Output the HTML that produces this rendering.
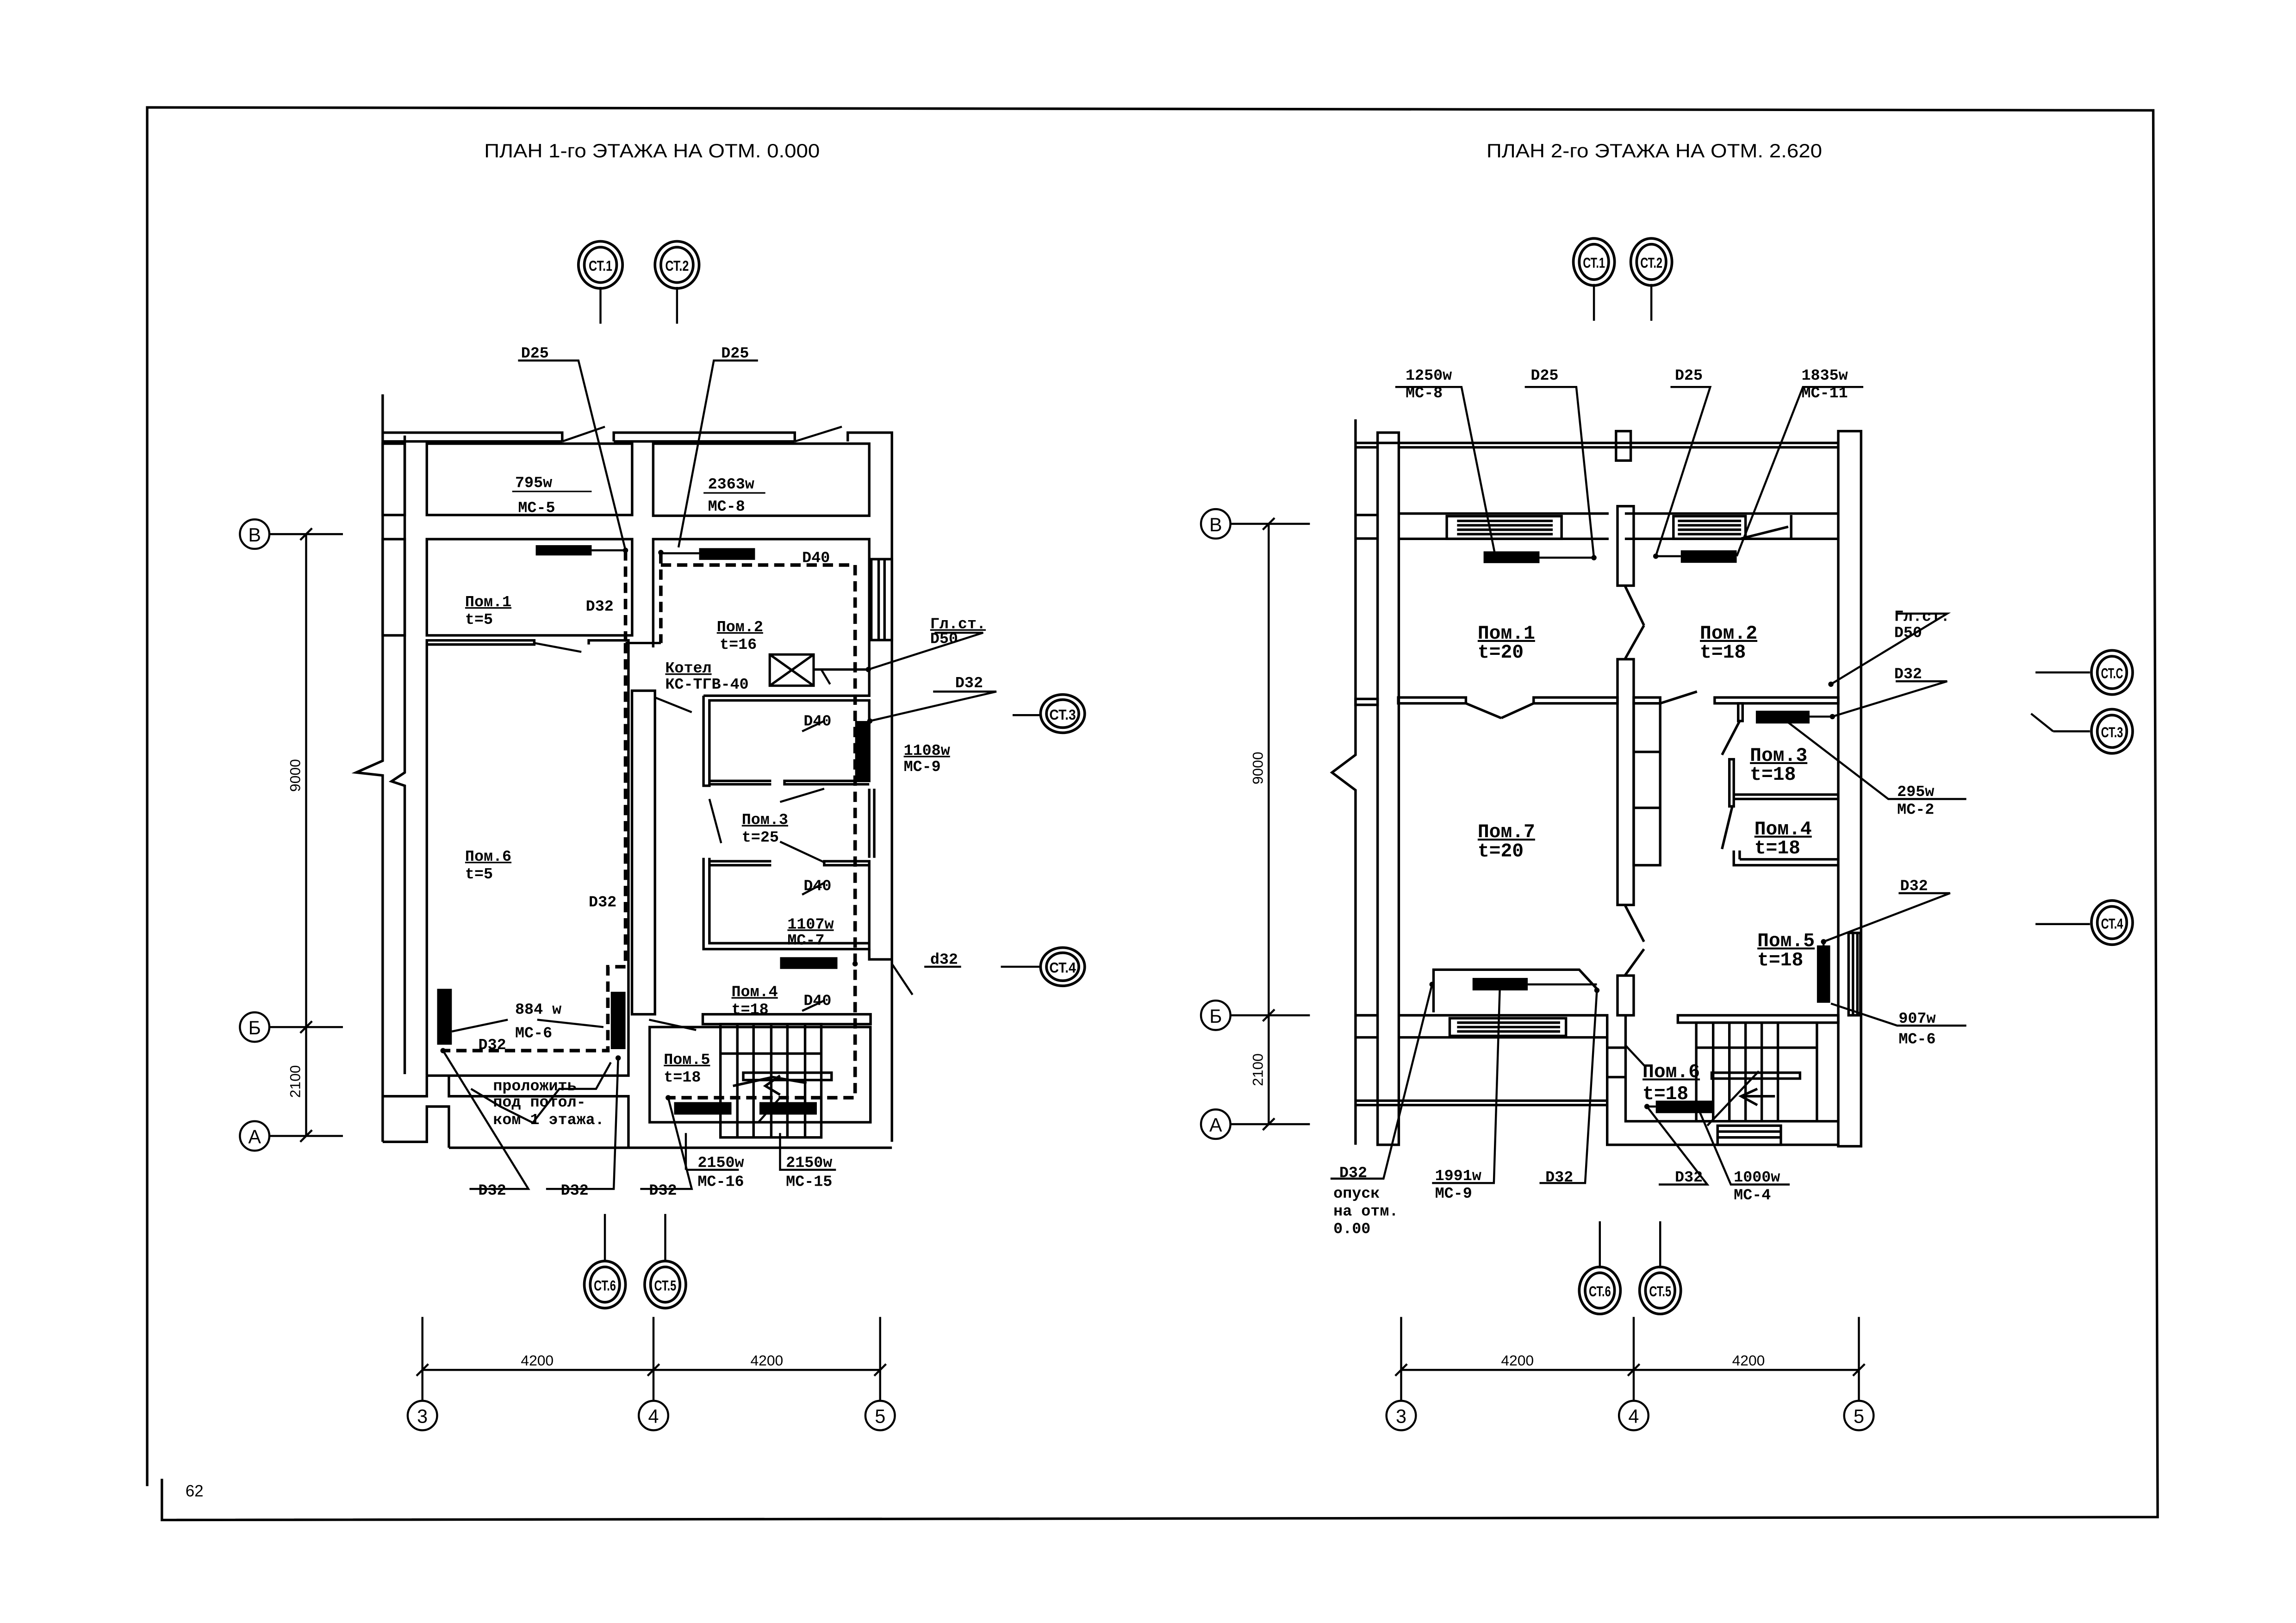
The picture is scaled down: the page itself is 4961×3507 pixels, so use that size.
<!DOCTYPE html>
<html><head><meta charset="utf-8"><style>
html,body{margin:0;padding:0;background:#fff}
svg{display:block}
.t{font-family:"Liberation Mono","DejaVu Sans Mono",monospace;font-weight:bold;fill:#000}
.s{font-family:"Liberation Sans",sans-serif;fill:#000}
</style></head><body>
<svg width="4961" height="3507" viewBox="0 0 1560 1103" preserveAspectRatio="none" xmlns="http://www.w3.org/2000/svg">
<rect width="1560" height="1103" fill="#fff"/>
<g stroke="#000" fill="none" stroke-width="1.7">
<polyline points="100,1010 100,73 1463,75 1466,1031 110,1033 110,1005"/>
</g>
<text class="s" x="443" y="107" font-size="13" text-anchor="middle" textLength="228" lengthAdjust="spacingAndGlyphs">ПЛАН 1-го ЭТАЖА НА ОТМ. 0.000</text>
<text class="s" x="1124" y="107" font-size="13" text-anchor="middle" textLength="228" lengthAdjust="spacingAndGlyphs">ПЛАН 2-го ЭТАЖА НА ОТМ. 2.620</text>
<text class="s" x="126" y="1017" font-size="11">62</text>

<!-- ================= LEFT PLAN ================= -->
<g stroke="#000" fill="none" stroke-width="1.7">
<polyline points="260,268 260,517 242,525 260,527 260,776"/>
<polyline points="275,296 275,525 266,531 275,534 275,730"/>
<polyline points="260,294 382,294 382,300"/>
<polyline points="417,300 417,294 540,294 540,300"/>
<polyline points="576,300 576,294 606,294 606,776"/>
<line x1="382" y1="300" x2="260" y2="300"/>
<line x1="417" y1="300" x2="540" y2="300"/>
<rect x="290" y="301.5" width="139.5" height="48.5"/>
<rect x="443.8" y="301.5" width="146.8" height="49"/>
<rect x="290" y="366.4" width="139.5" height="65.4"/>
<rect x="260" y="301.5" width="15" height="48.5"/>
<rect x="260" y="366.4" width="15" height="65.4"/>
<polyline points="290,731 290,435.2 363,435.2 363,438 290,438"/>
<polyline points="400,438 400,435.2 427,435.2 427,731 290,731"/>
<polyline points="443.8,440 443.8,366.4 590.6,366.4 590.6,472.8 478,472.8"/>
<rect x="592" y="380" width="14" height="55"/>
<line x1="597" y1="380" x2="597" y2="435"/><line x1="601" y1="380" x2="601" y2="435"/>
<rect x="429.4" y="469.4" width="15.6" height="219.9"/>
<polyline points="478,472.8 478,534 482,534 482,476 590.6,476 590.6,530.7 533,530.7 533,533 590.6,533"/>
<line x1="482" y1="530.7" x2="524" y2="530.7"/><line x1="482" y1="533" x2="524" y2="533"/>
<polyline points="478,583 478,645 590.6,645 590.6,585.3 560,585.3 560,588 590.6,588"/>
<polyline points="482,583 482,641 590.6,641"/>
<line x1="482" y1="585.3" x2="524" y2="585.3"/><line x1="482" y1="588" x2="524" y2="588"/>
<line x1="590.6" y1="536" x2="590.6" y2="583"/><line x1="594" y1="536" x2="594" y2="583"/>
<polyline points="590.6,645 590.6,652 606,652"/>
<rect x="477.5" y="689.3" width="114" height="6.7"/>
<rect x="441.4" y="698" width="150" height="64.7"/>
<rect x="489.5" y="696" width="68.5" height="77"/>
<line x1="501" y1="696" x2="501" y2="773"/><line x1="512" y1="696" x2="512" y2="773"/><line x1="524" y1="696" x2="524" y2="773"/><line x1="535" y1="696" x2="535" y2="773"/><line x1="547" y1="696" x2="547" y2="773"/>
<line x1="489.5" y1="716" x2="558" y2="716"/>
<rect x="505" y="729" width="60" height="5"/>
<polyline points="498,738 525,732 548,736"/>
<polyline points="530,731 520,738 530,744"/>
<polyline points="260,745 290,745 290,731"/>
<polyline points="305,731 305,745 427,745 427,780"/>
<polyline points="260,776 290,776 290,752 305,752 305,780"/>
<polyline points="427,780 606,780"/>
<polyline points="305,780 427,780"/>
</g>
<g stroke="#000" fill="none" stroke-width="2.4" stroke-dasharray="7,4">
<polyline points="425,374 425,437"/>
<polyline points="449,376 449,437"/>
<polyline points="449,384 581,384 581,746 454,746"/>
<polyline points="425,437 425,657 413,657 413,714 301,714"/>
</g>
<g stroke="#000" stroke-width="1.6" fill="none">
<line x1="425" y1="437" x2="449" y2="437"/>
<rect x="523" y="444.8" width="29.8" height="21.2"/>
<line x1="523" y1="444.8" x2="552.8" y2="466"/><line x1="523" y1="466" x2="552.8" y2="444.8"/>
<line x1="552.8" y1="455" x2="590" y2="455"/>
</g>
<g fill="#000">
<rect x="364" y="370.5" width="38" height="7"/>
<rect x="475" y="372.5" width="38" height="8"/>
<rect x="581" y="490" width="10" height="40"/>
<rect x="530" y="650.5" width="39" height="8"/>
<rect x="297" y="672" width="10" height="38"/>
<rect x="415" y="674" width="10" height="39"/>
<rect x="458" y="749" width="39" height="8.5"/>
<rect x="516" y="749" width="39" height="8.5"/>
<circle cx="425" cy="374" r="1.8"/><circle cx="449" cy="375.5" r="1.8"/><circle cx="590" cy="455" r="1.8"/><circle cx="591" cy="490" r="1.8"/>
<circle cx="581" cy="655" r="1.8"/><circle cx="301" cy="714" r="1.8"/><circle cx="420" cy="719" r="1.8"/><circle cx="454" cy="746" r="1.8"/>
</g>
<g stroke="#000" fill="none" stroke-width="1.4">
<polyline points="352,245 393,245 425,374"/>
<polyline points="515,245 485,245 461,372"/>
<line x1="402" y1="374" x2="425" y2="374"/>
<line x1="449" y1="376" x2="475" y2="376"/>
<line x1="382" y1="300" x2="411" y2="290"/><line x1="540" y1="300" x2="572" y2="290"/>
<polyline points="635,430 668,430 590,455"/>
<polyline points="558,455 564,465"/>
<polyline points="634,470 677,470 591,490"/>
<line x1="363" y1="437" x2="395" y2="443"/>
<line x1="445" y1="474" x2="470" y2="484"/>
<line x1="482" y1="543" x2="490" y2="573"/>
<line x1="530" y1="545" x2="560" y2="536"/>
<line x1="530" y1="572" x2="560" y2="586"/>
<line x1="441" y1="693" x2="473" y2="700"/>
<line x1="606" y1="655" x2="620" y2="676"/>
<line x1="545" y1="497" x2="560" y2="490"/><line x1="545" y1="608" x2="560" y2="600"/><line x1="545" y1="687" x2="560" y2="680"/>
<line x1="530" y1="746" x2="515" y2="763"/>
<line x1="307" y1="701" x2="345" y2="693"/><line x1="365" y1="693" x2="410" y2="698"/>
<polyline points="319,808 359,808 301,714"/>
<polyline points="371,808 417,808 420,719"/>
<polyline points="435,808 470,808 454,746"/>
<polyline points="466,795 466,770 "/><line x1="466" y1="795" x2="502" y2="795"/>
<polyline points="530,770 530,795 568,795"/>
<polyline points="320,740 340,752 362,763 380,740 405,740 415,722"/>
<line x1="628" y1="657" x2="653" y2="657"/>
<line x1="688" y1="486" x2="707" y2="486"/><line x1="680" y1="657" x2="707" y2="657"/>
<line x1="408" y1="195" x2="408" y2="220"/><line x1="460" y1="195" x2="460" y2="220"/>
<line x1="411" y1="857" x2="411" y2="825"/><line x1="452" y1="857" x2="452" y2="825"/>
</g>
<g class="t" font-size="10.5">
<text x="354" y="243">D25</text><text x="490" y="243">D25</text>
<text x="350" y="331">795w</text><line x1="348" y1="334" x2="402" y2="334" stroke="#000"/><text x="352" y="348">МС-5</text>
<text x="481" y="332">2363w</text><line x1="478" y1="335" x2="520" y2="335" stroke="#000"/><text x="481" y="347">МС-8</text>
<text x="545" y="382">D40</text>
<text x="398" y="415">D32</text>
<text x="316" y="412" text-decoration="underline">Пом.1</text><text x="316" y="424">t=5</text>
<text x="487" y="429" text-decoration="underline">Пом.2</text><text x="489" y="441">t=16</text>
<text x="452" y="457" text-decoration="underline">Котел</text><text x="452" y="468">КС-ТГВ-40</text>
<text x="632" y="427" text-decoration="underline">Гл.ст.</text><text x="632" y="437">D50</text>
<text x="649" y="467">D32</text>
<text x="546" y="493">D40</text>
<text x="614" y="513" text-decoration="underline">1108w</text><text x="614" y="524">МС-9</text>
<text x="504" y="560" text-decoration="underline">Пом.3</text><text x="504" y="572">t=25</text>
<text x="316" y="585" text-decoration="underline">Пом.6</text><text x="316" y="597">t=5</text>
<text x="400" y="616">D32</text>
<text x="546" y="605">D40</text>
<text x="535" y="631" text-decoration="underline">1107w</text><text x="535" y="642">МС-7</text>
<text x="632" y="655">d32</text>
<text x="497" y="677" text-decoration="underline">Пом.4</text><text x="497" y="689">t=18</text>
<text x="546" y="683">D40</text>
<text x="350" y="689">884 w</text><text x="350" y="705">МС-6</text>
<text x="325" y="713">D32</text>
<text x="451" y="723" text-decoration="underline">Пом.5</text><text x="451" y="735">t=18</text>
<text x="335" y="741">проложить</text><text x="335" y="752">под потол-</text><text x="335" y="764">ком 1 этажа.</text>
<text x="325" y="812">D32</text><text x="381" y="812">D32</text><text x="441" y="812">D32</text>
<text x="474" y="793">2150w</text><text x="474" y="806">МС-16</text>
<text x="534" y="793">2150w</text><text x="534" y="806">МС-15</text>
</g>

<!-- ================= RIGHT PLAN ================= -->
<g stroke="#000" fill="none" stroke-width="1.7">
<polyline points="921,285 921,513 905,525 921,537 921,778"/>
<rect x="936" y="294" width="14.4" height="484"/>
<rect x="1249" y="293" width="15.5" height="486"/>
<line x1="921" y1="301" x2="1249" y2="301"/><line x1="921" y1="304" x2="936" y2="304"/><line x1="950" y1="304" x2="1249" y2="304"/>
<polyline points="950,349 1093,349"/><polyline points="1104,349 1249,349"/>
<rect x="1098" y="293" width="10" height="20"/>
<line x1="921" y1="350" x2="936" y2="350"/><line x1="921" y1="366" x2="936" y2="366"/>
<rect x="983" y="350.8" width="78" height="15.4"/>
<line x1="990" y1="354" x2="1055" y2="354"/><line x1="990" y1="357" x2="1055" y2="357"/><line x1="990" y1="360" x2="1055" y2="360"/><line x1="990" y1="363" x2="1055" y2="363"/>
<rect x="1137" y="350.8" width="49" height="15.4"/>
<line x1="1140" y1="354" x2="1183" y2="354"/><line x1="1140" y1="357" x2="1183" y2="357"/><line x1="1140" y1="360" x2="1183" y2="360"/><line x1="1140" y1="363" x2="1183" y2="363"/>
<line x1="1217" y1="350" x2="1217" y2="366"/>
<line x1="950" y1="366.2" x2="1093" y2="366.2"/><line x1="1104" y1="366.2" x2="1249" y2="366.2"/>
<rect x="1099" y="344" width="11" height="54"/>
<rect x="1099" y="448" width="11" height="167"/>
<rect x="1099" y="663" width="11" height="27"/>
<rect x="921" y="475" width="15" height="4"/>
<rect x="950" y="474" width="46" height="4"/>
<rect x="1042" y="474" width="57" height="4"/>
<rect x="1110" y="474" width="18" height="4"/>
<rect x="1165" y="474" width="84" height="4"/>
<rect x="1110" y="478" width="18" height="110"/>
<line x1="1110" y1="511" x2="1128" y2="511"/><line x1="1110" y1="549" x2="1128" y2="549"/>
<rect x="1181" y="478" width="3" height="12"/>
<rect x="1175" y="516" width="3" height="32"/>
<line x1="1178" y1="540" x2="1249" y2="540"/><line x1="1178" y1="543" x2="1249" y2="543"/>
<polyline points="1178,578 1178,588 1249,588"/><line x1="1182" y1="584" x2="1249" y2="584"/><line x1="1182" y1="578" x2="1182" y2="584"/>
<rect x="1256" y="634" width="8" height="56"/>
<line x1="1259" y1="634" x2="1259" y2="690"/><line x1="1262" y1="634" x2="1262" y2="690"/>
<polyline points="950,690 1092,690 1092,778 1249,778"/>
<line x1="921" y1="690" x2="936" y2="690"/><line x1="921" y1="705" x2="936" y2="705"/>
<rect x="985" y="692" width="79" height="12"/>
<line x1="990" y1="695" x2="1060" y2="695"/><line x1="990" y1="698" x2="1060" y2="698"/><line x1="990" y1="701" x2="1060" y2="701"/>
<line x1="950" y1="705" x2="1092" y2="705"/>
<line x1="921" y1="748" x2="1092" y2="748"/><line x1="921" y1="751" x2="1092" y2="751"/>
<polyline points="1104.5,690 1104.5,762 1249,762"/>
<line x1="1092" y1="712" x2="1104" y2="712"/><line x1="1092" y1="732" x2="1104" y2="732"/>
<rect x="1140" y="690" width="109" height="5"/>
<rect x="1152.5" y="695" width="82" height="67"/>
<line x1="1164" y1="695" x2="1164" y2="762"/><line x1="1175" y1="695" x2="1175" y2="762"/><line x1="1186" y1="695" x2="1186" y2="762"/><line x1="1197" y1="695" x2="1197" y2="762"/><line x1="1208" y1="695" x2="1208" y2="762"/>
<line x1="1152.5" y1="712" x2="1234.5" y2="712"/>
<rect x="1163" y="729" width="60" height="4"/>
<polyline points="1194,740 1183,745 1194,751"/><line x1="1183" y1="745" x2="1206" y2="745"/>
<rect x="1167" y="765" width="43" height="13"/>
<line x1="1167" y1="769" x2="1210" y2="769"/><line x1="1167" y1="773" x2="1210" y2="773"/>
<line x1="1104" y1="398" x2="1117" y2="425"/><line x1="1117" y1="425" x2="1104" y2="448"/>
<line x1="996" y1="478" x2="1020" y2="488"/><line x1="1020" y1="488" x2="1042" y2="478"/>
<line x1="1128" y1="478" x2="1153" y2="470"/>
<line x1="1182" y1="490" x2="1170" y2="513"/>
<line x1="1177" y1="548" x2="1170" y2="577"/>
<line x1="1104" y1="615" x2="1117" y2="640"/><line x1="1117" y1="645" x2="1104" y2="663"/>
<line x1="1183" y1="366" x2="1215" y2="358"/>
<polyline points="974,688 974,659 1073,659 1085,672"/>
</g>
<g fill="#000">
<rect x="1008" y="374.7" width="38" height="8"/>
<rect x="1142" y="374" width="38" height="8.5"/>
<rect x="1193" y="483" width="36.5" height="8.7"/>
<rect x="1234.5" y="642.5" width="9" height="39"/>
<rect x="1000.5" y="664.6" width="37.5" height="8.5"/>
<rect x="1125" y="748" width="39" height="8.5"/>
<circle cx="1083" cy="379" r="1.8"/><circle cx="1125" cy="378" r="1.8"/><circle cx="1245" cy="487" r="1.8"/>
<circle cx="1244" cy="465" r="1.8"/><circle cx="1239" cy="640" r="1.8"/><circle cx="1085" cy="673" r="1.8"/><circle cx="973" cy="669" r="1.8"/><circle cx="1119" cy="752" r="1.8"/>
</g>
<g stroke="#000" fill="none" stroke-width="1.4">
<line x1="1046" y1="379" x2="1083" y2="379"/><line x1="1125" y1="378" x2="1142" y2="378"/>
<line x1="1229" y1="487" x2="1245" y2="487"/><line x1="1239" y1="640" x2="1239" y2="644"/>
<line x1="1038" y1="669" x2="1085" y2="669"/><line x1="1119" y1="752" x2="1125" y2="752"/>
<polyline points="948,263 993,263 1016,378"/>
<polyline points="1036,263 1071,263 1083,379"/>
<polyline points="1135,263 1162,263 1125,378"/>
<polyline points="1266,263 1225,263 1180,378"/>
<polyline points="1288,417 1323,417 1244,465"/>
<polyline points="1288,463 1323,463 1245,487"/>
<polyline points="1336,543 1283,543 1215,491"/>
<polyline points="1290,607 1325,607 1239,640"/>
<polyline points="1336,697 1289,697 1244,682"/>
<polyline points="904,801 940,801 973,669"/>
<polyline points="973,804 1015,804 1019,673"/>
<polyline points="1046,804 1077,804 1085,673"/>
<polyline points="1127,805 1160,805 1119,752"/>
<polyline points="1216,805 1176,805 1155,756"/>
<line x1="1104" y1="710" x2="1118" y2="725"/>
<line x1="1160" y1="765" x2="1195" y2="728"/>
<line x1="1083" y1="193" x2="1083" y2="218"/><line x1="1122" y1="193" x2="1122" y2="218"/>
<line x1="1383" y1="457" x2="1420" y2="457"/><line x1="1380" y1="485" x2="1395" y2="497"/><line x1="1395" y1="497" x2="1420" y2="497"/>
<line x1="1383" y1="628" x2="1420" y2="628"/>
<line x1="1087" y1="862" x2="1087" y2="830"/><line x1="1128" y1="862" x2="1128" y2="830"/>
</g>
<g class="t" font-size="10.5">
<text x="955" y="258">1250w</text><text x="955" y="270">МС-8</text>
<text x="1040" y="258">D25</text><text x="1138" y="258">D25</text>
<text x="1224" y="258">1835w</text><text x="1224" y="270">МС-11</text>
<text x="1004" y="434" font-size="13" text-decoration="underline">Пом.1</text><text x="1004" y="447" font-size="13">t=20</text>
<text x="1155" y="434" font-size="13" text-decoration="underline">Пом.2</text><text x="1155" y="447" font-size="13">t=18</text>
<text x="1287" y="422">Гл.ст.</text><text x="1287" y="433">D50</text>
<text x="1287" y="461">D32</text>
<text x="1189" y="517" font-size="13" text-decoration="underline">Пом.3</text><text x="1189" y="530" font-size="13">t=18</text>
<text x="1289" y="541">295w</text><text x="1289" y="553">МС-2</text>
<text x="1004" y="569" font-size="13" text-decoration="underline">Пом.7</text><text x="1004" y="582" font-size="13">t=20</text>
<text x="1192" y="567" font-size="13" text-decoration="underline">Пом.4</text><text x="1192" y="580" font-size="13">t=18</text>
<text x="1291" y="605">D32</text>
<text x="1194" y="643" font-size="13" text-decoration="underline">Пом.5</text><text x="1194" y="656" font-size="13">t=18</text>
<text x="1290" y="695">907w</text><text x="1290" y="709">МС-6</text>
<text x="1116" y="732" font-size="13" text-decoration="underline">Пом.6</text><text x="1116" y="747" font-size="13">t=18</text>
<text x="910" y="800">D32</text><text x="906" y="814">опуск</text><text x="906" y="826">на отм.</text><text x="906" y="838">0.00</text>
<text x="975" y="802">1991w</text><text x="975" y="814">МС-9</text>
<text x="1050" y="803">D32</text>
<text x="1138" y="803">D32</text>
<text x="1178" y="803">1000w</text><text x="1178" y="815">МС-4</text>
</g>

<g stroke="#000" fill="none" stroke-width="1.8">
<ellipse cx="408" cy="180" rx="15" ry="16"/><ellipse cx="408" cy="180" rx="11" ry="12"/>
<ellipse cx="460" cy="180" rx="15" ry="16"/><ellipse cx="460" cy="180" rx="11" ry="12"/>
<ellipse cx="722" cy="485" rx="15" ry="13"/><ellipse cx="722" cy="485" rx="11" ry="9.5"/>
<ellipse cx="722" cy="657" rx="15" ry="13"/><ellipse cx="722" cy="657" rx="11" ry="9.5"/>
<ellipse cx="411" cy="873" rx="14" ry="16"/><ellipse cx="411" cy="873" rx="10" ry="12"/>
<ellipse cx="452" cy="873" rx="14" ry="16"/><ellipse cx="452" cy="873" rx="10" ry="12"/>
<ellipse cx="1083" cy="178" rx="14" ry="16"/><ellipse cx="1083" cy="178" rx="10" ry="12"/>
<ellipse cx="1122" cy="178" rx="14" ry="16"/><ellipse cx="1122" cy="178" rx="10" ry="12"/>
<ellipse cx="1435" cy="457" rx="14" ry="15"/><ellipse cx="1435" cy="457" rx="10" ry="11"/>
<ellipse cx="1435" cy="497" rx="14" ry="15"/><ellipse cx="1435" cy="497" rx="10" ry="11"/>
<ellipse cx="1435" cy="627" rx="14" ry="15"/><ellipse cx="1435" cy="627" rx="10" ry="11"/>
<ellipse cx="1087" cy="877" rx="14" ry="16"/><ellipse cx="1087" cy="877" rx="10" ry="12"/>
<ellipse cx="1128" cy="877" rx="14" ry="16"/><ellipse cx="1128" cy="877" rx="10" ry="12"/>
</g>
<g class="s" font-size="10" font-weight="bold" text-anchor="middle">
<text x="408" y="184" textLength="16" lengthAdjust="spacingAndGlyphs">СТ.1</text>
<text x="460" y="184" textLength="16" lengthAdjust="spacingAndGlyphs">СТ.2</text>
<text x="722" y="489" textLength="18" lengthAdjust="spacingAndGlyphs">СТ.3</text>
<text x="722" y="661" textLength="18" lengthAdjust="spacingAndGlyphs">СТ.4</text>
<text x="411" y="877" textLength="15" lengthAdjust="spacingAndGlyphs">СТ.6</text>
<text x="452" y="877" textLength="15" lengthAdjust="spacingAndGlyphs">СТ.5</text>
<text x="1083" y="182" textLength="15" lengthAdjust="spacingAndGlyphs">СТ.1</text>
<text x="1122" y="182" textLength="15" lengthAdjust="spacingAndGlyphs">СТ.2</text>
<text x="1435" y="461" textLength="15" lengthAdjust="spacingAndGlyphs">СТ.С</text>
<text x="1435" y="501" textLength="15" lengthAdjust="spacingAndGlyphs">СТ.3</text>
<text x="1435" y="631" textLength="15" lengthAdjust="spacingAndGlyphs">СТ.4</text>
<text x="1087" y="881" textLength="15" lengthAdjust="spacingAndGlyphs">СТ.6</text>
<text x="1128" y="881" textLength="15" lengthAdjust="spacingAndGlyphs">СТ.5</text>
</g>

<g stroke="#000" fill="none" stroke-width="1.4">
<circle cx="173" cy="363" r="10"/><circle cx="173" cy="698" r="10"/><circle cx="173" cy="772" r="10"/>
<line x1="183" y1="363" x2="233" y2="363"/><line x1="183" y1="698" x2="233" y2="698"/><line x1="183" y1="772" x2="233" y2="772"/>
<line x1="208" y1="363" x2="208" y2="772"/>
<line x1="204" y1="367" x2="212" y2="359"/><line x1="204" y1="702" x2="212" y2="694"/><line x1="204" y1="776" x2="212" y2="768"/>
<circle cx="287" cy="962" r="10"/><circle cx="444" cy="962" r="10"/><circle cx="598" cy="962" r="10"/>
<line x1="287" y1="895" x2="287" y2="952"/><line x1="444" y1="895" x2="444" y2="952"/><line x1="598" y1="895" x2="598" y2="952"/>
<line x1="287" y1="931" x2="598" y2="931"/>
<line x1="283" y1="935" x2="291" y2="927"/><line x1="440" y1="935" x2="448" y2="927"/><line x1="594" y1="935" x2="602" y2="927"/>
<circle cx="826" cy="356" r="10"/><circle cx="826" cy="690" r="10"/><circle cx="826" cy="764" r="10"/>
<line x1="836" y1="356" x2="890" y2="356"/><line x1="836" y1="690" x2="890" y2="690"/><line x1="836" y1="764" x2="890" y2="764"/>
<line x1="862" y1="356" x2="862" y2="764"/>
<line x1="858" y1="360" x2="866" y2="352"/><line x1="858" y1="694" x2="866" y2="686"/><line x1="858" y1="768" x2="866" y2="760"/>
<circle cx="952" cy="962" r="10"/><circle cx="1110" cy="962" r="10"/><circle cx="1263" cy="962" r="10"/>
<line x1="952" y1="895" x2="952" y2="952"/><line x1="1110" y1="895" x2="1110" y2="952"/><line x1="1263" y1="895" x2="1263" y2="952"/>
<line x1="952" y1="931" x2="1263" y2="931"/>
<line x1="948" y1="935" x2="956" y2="927"/><line x1="1106" y1="935" x2="1114" y2="927"/><line x1="1259" y1="935" x2="1267" y2="927"/>
</g>
<g class="s" font-size="13" text-anchor="middle">
<text x="173" y="368">В</text><text x="173" y="703">Б</text><text x="173" y="777">А</text>
<text x="287" y="967">3</text><text x="444" y="967">4</text><text x="598" y="967">5</text>
<text x="826" y="361">В</text><text x="826" y="695">Б</text><text x="826" y="769">А</text>
<text x="952" y="967">3</text><text x="1110" y="967">4</text><text x="1263" y="967">5</text>
</g>
<g class="s" font-size="10" text-anchor="middle">
<text x="365" y="928">4200</text><text x="521" y="928">4200</text>
<text x="1031" y="928">4200</text><text x="1188" y="928">4200</text>
<text transform="translate(204,527) rotate(-90)">9000</text>
<text transform="translate(204,735) rotate(-90)">2100</text>
<text transform="translate(858,522) rotate(-90)">9000</text>
<text transform="translate(858,727) rotate(-90)">2100</text>
</g>
</svg>
</body></html>
